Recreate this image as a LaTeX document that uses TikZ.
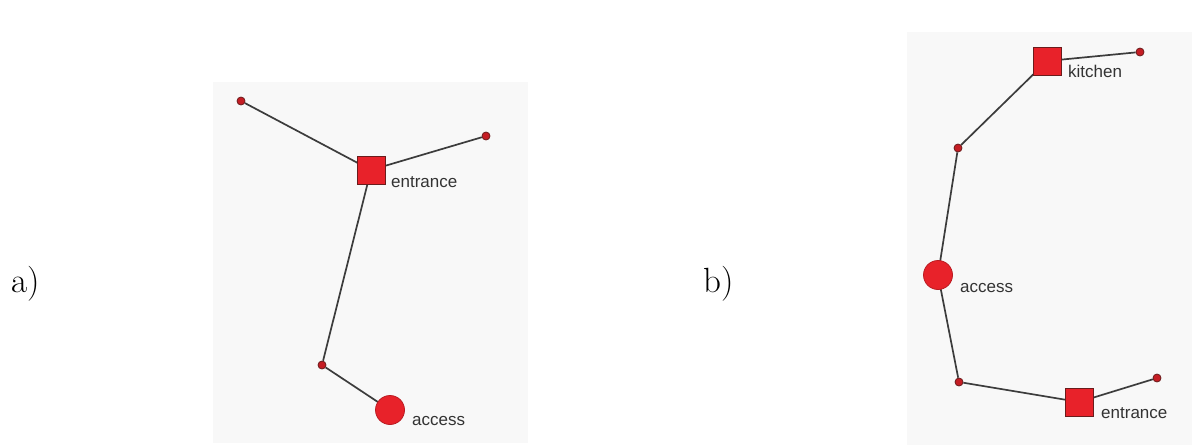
\documentclass[tikz,border=0pt]{standalone}
\usepackage{fontspec}
\newfontfamily\lblfont{Liberation Sans}
\definecolor{nodered}{HTML}{E8222A}
\definecolor{nodeedge}{HTML}{6A1C1C}
\definecolor{edgecol}{HTML}{3C3C3C}
\definecolor{panelbg}{HTML}{F8F8F8}
\definecolor{lbl}{HTML}{333333}
\tikzset{
  sq/.style={rectangle, draw=nodeedge, fill=nodered, line width=0.9pt, minimum size=28pt, inner sep=0pt},
  bigdot/.style={circle, draw=nodered!80!black, fill=nodered, line width=0.8pt, minimum size=29pt, inner sep=0pt},
  smdot/.style={circle, draw=nodeedge, fill=nodered!85!black, line width=0.8pt, minimum size=8pt, inner sep=0pt},
  link/.style={draw=edgecol, line width=1.7pt},
  lab/.style={anchor=base west, inner sep=0pt, text=lbl, font=\lblfont\fontsize{17}{17}\selectfont},
  panel/.style={fill=panelbg, draw=none},
  tag/.style={anchor=base west, inner sep=0pt, font=\fontsize{35}{38}\selectfont}
}
\begin{document}
\begin{tikzpicture}[x=1pt,y=-1pt]
\useasboundingbox (0,0) rectangle (1203,445);
% panels
\fill[panel] (213,82) rectangle (528,443);
\fill[panel] (907,32) rectangle (1192,445);
% panel tags
\node[tag] (ta) at (11,292) {a)};
\node[tag] (tb) at (703,292) {b)};
% panel a nodes
\node[smdot] (a1) at (241,101) {};
\node[smdot] (a2) at (486,136) {};
\node[smdot] (a3) at (322,365) {};
\coordinate (aEc) at (371,170);
\coordinate (aAc) at (390,410);
\path[link] (a1) -- (aEc);
\path[link] (a2) -- (aEc);
\path[link] (aEc) -- (a3);
\path[link] (a3) -- (aAc);
\node[sq] (aE) at (aEc) {};
\node[bigdot] (aA) at (aAc) {};
\node[lab] (aEl) at (391,187) {entrance};
\node[lab] (aAl) at (412,425) {access};
% panel b nodes
\node[smdot] (b1) at (1140,52) {};
\node[smdot] (b2) at (958,148) {};
\node[smdot] (b3) at (959,382) {};
\node[smdot] (b4) at (1157,378) {};
\coordinate (bKc) at (1047,61);
\coordinate (bAc) at (938,275);
\coordinate (bEc) at (1079,402);
\path[link] (bKc) -- (b1);
\path[link] (bKc) -- (b2);
\path[link] (b2) -- (bAc);
\path[link] (bAc) -- (b3);
\path[link] (b3) -- (bEc);
\path[link] (bEc) -- (b4);
\node[sq] (bK) at (bKc) {};
\node[bigdot] (bA) at (bAc) {};
\node[sq] (bE) at (bEc) {};
\node[lab] (bKl) at (1068,77) {kitchen};
\node[lab] (bAl) at (960,292) {access};
\node[lab] (bEl) at (1101,418) {entrance};
\end{tikzpicture}
\end{document}
